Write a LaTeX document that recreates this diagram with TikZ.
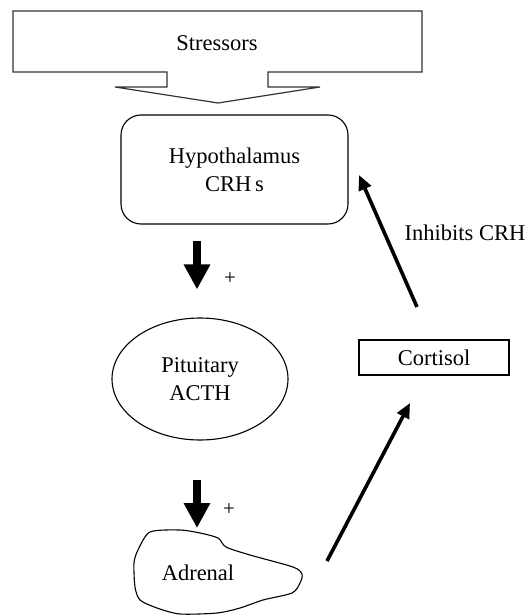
\documentclass[tikz,border=0pt]{standalone}
\usepackage{fontspec}
\setmainfont{Liberation Serif}
\usetikzlibrary{arrows.meta,shapes.geometric}
\begin{document}
\begin{tikzpicture}[x=1pt,y=-1pt,
  lbl/.style={font=\fontsize{22.5}{28}\selectfont, align=center, inner sep=0pt},
  plus/.style={font=\fontsize{21}{24}\selectfont, inner sep=0pt},
  outline/.style={draw=black, line width=1.1pt},
  bigarrow/.style={line width=7.5pt, -{Triangle[width=25pt,length=25pt]}},
  thinarrow/.style={line width=3.6pt, -{Triangle[width=13pt,length=15pt]}}
]
\useasboundingbox (0,0) rectangle (528,615);
% Stressors block arrow
\draw[draw=black!80, line width=1.2pt, line join=miter]
  (13,11) -- (422,11) -- (422,72) -- (268,72) -- (268,87) -- (320,87)
  -- (218,103) -- (115,87) -- (167,87) -- (167,72) -- (13,72) -- cycle;
\node[lbl] (stress) at (217,43) {Stressors};
% Hypothalamus
\node[lbl, outline, rounded corners=20pt, minimum width=227pt, minimum height=109pt] (hypo) at (234.5,169.5) {Hypothalamus\\CRH\,s};
% Pituitary
\node[lbl, outline, ellipse, minimum width=176pt, minimum height=122pt] (pit) at (200,379) {Pituitary\\ACTH};
% Cortisol
\node[lbl, outline, minimum width=150pt, minimum height=35pt] (cort) at (434,357.5) {Cortisol};
% Adrenal
\draw[outline] plot[smooth cycle, tension=0.45] coordinates {
  (150,532) (180,530) (200,533) (218,538) (226,547) (250,555) (293,567)
  (302,574) (300,583) (292,593) (263,600) (240,608) (217,613) (180,614)
  (157,608) (140,600) (135,587) (134,563) (138,550)};
\node[lbl] (adr) at (198,573) {Adrenal};
% Inhibits label
\node[lbl] (inh) at (465,233) {Inhibits CRH};
% Plus signs
\node[plus] (p1) at (230,279) {+};
\node[plus] (p2) at (229,510) {+};
% Thick arrows
\coordinate (a1s) at ([xshift=-37.5pt,yshift=-16pt]hypo.south);
\coordinate (a1e) at ([xshift=-3pt,yshift=28pt]pit.north);
\draw[bigarrow] (a1s) -- (a1e);
\coordinate (a2s) at ([xshift=-3pt,yshift=-39pt]pit.south);
\coordinate (a2e) at (197,528);
\draw[bigarrow] (a2s) -- (a2e);
% Thin arrows
\coordinate (i1) at (417,307);
\coordinate (i2) at (359,175);
\draw[thinarrow] (i1) -- (i2);
\coordinate (c1) at (327,561);
\coordinate (c2) at (410,403);
\draw[thinarrow] (c1) -- (c2);
\end{tikzpicture}
\end{document}
